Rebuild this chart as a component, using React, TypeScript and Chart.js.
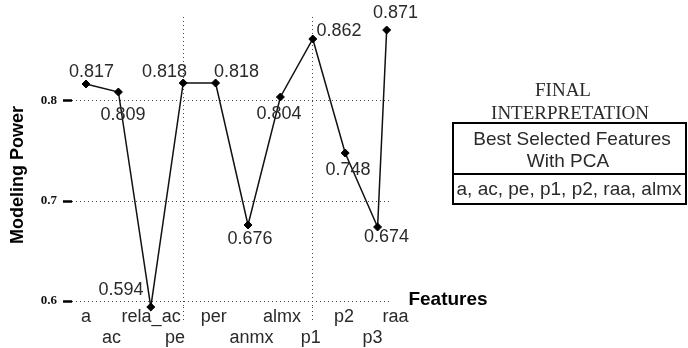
import { useEffect, useRef } from 'react';
import { Chart, registerables } from 'chart.js';

Chart.register(...registerables);

// ---- data ----
const features = ['a', 'ac', 'rela_ac', 'pe', 'per', 'anmx', 'almx', 'p1', 'p2', 'p3', 'raa'];
const modelingPower = [0.817, 0.809, 0.594, 0.818, 0.818, 0.676, 0.804, 0.862, 0.748, 0.674, 0.871];
const featureX = [0, 1, 2, 3, 4, 5, 6, 7, 8, 9, 9.28];
const featureTickX = [0, 0.79, 2.01, 2.75, 3.94, 5.11, 6.05, 6.94, 7.96, 8.84, 9.55];
const yTickValues = [0.6, 0.7, 0.8];
const dividerX = [3, 7];
const selectedFeatures = ['a', 'ac', 'pe', 'p1', 'p2', 'raa', 'almx'];

// ---- label placement (style) ----
const valueLabelOffsets: [number, number][] = [
  [5.5, -11.5], [4.6, 23.5], [-29.8, -16.5], [-18.7, -10.5], [20.9, -10.5],
  [2, 14], [-1.4, 17], [26.2, -7.5], [2.8, 17], [8.9, 10.5], [8.8, -16.5],
];

const SANS = '"Liberation Sans", Arial, sans-serif';
const SERIF = '"Liberation Serif", "Times New Roman", serif';
const TEXT = '#2a2a2a';

const extrasPlugin = {
  id: 'extras',
  afterDraw(chart: any) {
    const ctx = chart.ctx as CanvasRenderingContext2D;
    const meta = chart.getDatasetMeta(0);
    ctx.save();
    // value labels
    ctx.font = `18px ${SANS}`;
    ctx.fillStyle = TEXT;
    ctx.textAlign = 'center';
    ctx.textBaseline = 'middle';
    meta.data.forEach((pt: any, i: number) => {
      const [dx, dy] = valueLabelOffsets[i];
      ctx.fillText(modelingPower[i].toFixed(3), pt.x + dx, pt.y + dy);
    });

    // y axis title
    ctx.save();
    ctx.translate(23, 175);
    ctx.rotate(-Math.PI / 2);
    ctx.font = `bold 18px ${SANS}`;
    ctx.fillStyle = '#000';
    ctx.textAlign = 'center';
    ctx.textBaseline = 'alphabetic';
    ctx.fillText('Modeling Power', 0, 0);
    ctx.restore();

    // x axis title
    ctx.font = `bold 19px ${SANS}`;
    ctx.fillStyle = '#000';
    ctx.textAlign = 'center';
    ctx.textBaseline = 'alphabetic';
    ctx.fillText('Features', 448, 305);

    // interpretation table
    ctx.fillStyle = TEXT;
    ctx.font = `19px ${SERIF}`;
    ctx.textBaseline = 'middle';
    ctx.fillText('FINAL', 563, 91);
    ctx.fillText('INTERPRETATION', 570, 114);

    ctx.strokeStyle = '#000';
    ctx.lineWidth = 2;
    ctx.strokeRect(453, 123, 233, 81);
    ctx.beginPath();
    ctx.moveTo(453, 174);
    ctx.lineTo(686, 174);
    ctx.stroke();

    ctx.font = `19px ${SANS}`;
    ctx.fillText('Best Selected Features', 572, 140);
    ctx.fillText('With PCA', 568, 162);
    ctx.fillText(selectedFeatures.join(', '), 569, 190);
    ctx.restore();
  },
};

export default function App() {
  const ref = useRef<HTMLCanvasElement | null>(null);

  useEffect(() => {
    document.body.style.margin = '0';
    const canvas = ref.current;
    if (!canvas) return;
    const xMin = -0.432;
    const xMax = 9.383;
    const chart = new Chart(canvas, {
      type: 'line',
      data: {
        datasets: [
          {
            data: features.map((_, i) => ({ x: featureX[i], y: modelingPower[i] })),
            borderColor: '#111',
            borderWidth: 1.5,
            pointStyle: 'rectRot',
            pointRadius: 4,
            pointBackgroundColor: '#000',
            pointBorderColor: '#000',
            pointBorderWidth: 1,
            tension: 0,
            clip: false,
          } as any,
        ],
      },
      options: {
        animation: false,
        responsive: false,
        devicePixelRatio: 1,
        layout: { padding: { left: 0, top: 17, right: 298, bottom: 0 } },
        plugins: { legend: { display: false }, tooltip: { enabled: false } },
        scales: {
          x: {
            type: 'linear',
            position: 'bottom',
            min: xMin,
            max: xMax,
            weight: 1,
            afterBuildTicks: (s: any) => {
              s.ticks = featureTickX.map((v) => ({ value: v }));
            },
            afterFit: (s: any) => {
              s.height = 41;
            },
            grid: { display: false, drawTicks: false },
            border: { display: false },
            ticks: {
              autoSkip: false,
              maxRotation: 0,
              minRotation: 0,
              padding: 0,
              color: TEXT,
              font: { family: SANS, size: 18, lineHeight: 1.167 },
              callback: (_v: any, i: number) => (i % 2 ? ['', features[i]] : features[i]),
            },
          },
          x2: {
            type: 'linear',
            position: 'bottom',
            min: xMin,
            max: xMax,
            weight: 0,
            afterBuildTicks: (s: any) => {
              s.ticks = dividerX.map((v) => ({ value: v }));
            },
            afterFit: (s: any) => {
              s.height = 0;
            },
            grid: {
              color: '#444',
              lineWidth: 1,
              drawTicks: true,
              tickLength: 14,
              tickColor: '#444',
              tickBorderDash: [1, 3],
            },
            border: { display: false, dash: [1, 3] },
            ticks: { display: false },
          },
          y: {
            type: 'linear',
            min: 0.594,
            max: 0.884,
            afterBuildTicks: (s: any) => {
              s.ticks = yTickValues.map((v) => ({ value: v }));
            },
            afterFit: (s: any) => {
              s.width = 72;
            },
            grid: {
              color: '#444',
              lineWidth: 1,
              tickColor: '#000',
              tickLength: 9,
              tickWidth: 2.5,
              tickBorderDash: [],
            },
            border: { display: false, dash: [1, 3] },
            ticks: {
              padding: 6,
              color: '#111',
              font: { family: SERIF, size: 13, weight: 'bold' },
              callback: (v: any) => String(v),
            },
          },
        } as any,
      },
      plugins: [extrasPlugin],
    });
    return () => chart.destroy();
  }, []);

  return <canvas ref={ref} width={688} height={348} style={{ display: 'block' }} />;
}
